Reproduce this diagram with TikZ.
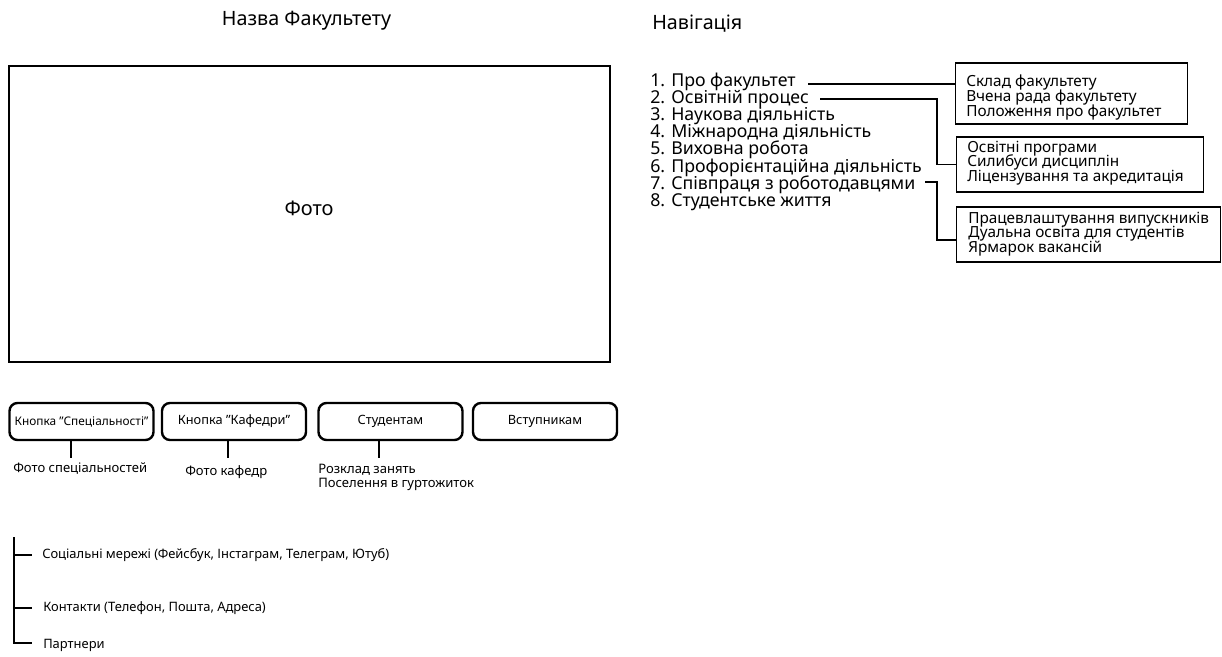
\documentclass[tikz,border=0pt]{standalone}
\usepackage{fontspec}
\setmainfont{Noto Sans}
\newcommand\fsTitle{\fontsize{14.8pt}{16pt}\selectfont}
\newcommand\fsPhoto{\fontsize{15pt}{17pt}\selectfont}
\newcommand\fsNav{\fontsize{13.3pt}{14pt}\selectfont}
\newcommand\fsBox{\fontsize{11.5pt}{11pt}\selectfont\lineskiplimit=-100pt\relax}
\newcommand\fsBtn{\fontsize{9.6pt}{11pt}\selectfont}
\newcommand\fsBtnS{\fontsize{8.9pt}{10pt}\selectfont}
\newcommand\fsLbl{\fontsize{9.8pt}{10.5pt}\selectfont\lineskiplimit=-100pt\relax}
\newcommand\fsFoot{\fontsize{9.7pt}{10pt}\selectfont}
\newcommand\qq{\char34\relax}
\begin{document}
\begin{tikzpicture}[x=0.75pt,y=-0.75pt,
  frame/.style={draw,line width=1.5pt},
  navitem/.style={anchor=west,inner sep=0pt,font=\fsNav},
  subbox/.style={draw,line width=0.8pt,anchor=west,inner sep=0pt},
  subtext/.style={anchor=west,align=left,inner sep=0pt,font=\fsBox},
  conn/.style={line width=1.3pt},
  btn/.style={draw,line width=1.8pt,rounded corners=6pt,minimum width=108pt,minimum height=27.75pt,inner sep=0pt,font=\fsBtn},
  stem/.style={line width=2pt},
  lbl/.style={anchor=north west,inner sep=0pt,align=left,font=\fsLbl},
  foot/.style={anchor=west,inner sep=0pt,font=\fsFoot},
  bracket/.style={line width=2pt}]
\useasboundingbox (0,0) rectangle (1222,657);

% titles
\node[font=\fsTitle] (title) at (306.5,21) {Назва Факультету};
\node[font=\fsTitle,anchor=west,inner sep=0pt] (navtitle) at (652,24) {Навігація};

% photo
\draw[frame] (9,66) rectangle (610,362);
\node[font=\fsPhoto] (photo) at (309,208) {Фото};

% navigation list
\node[navitem] (n1) at (650,82) {1. Про факультет};
\node[navitem] (n2) at (650,99) {2. Освітній процес};
\node[navitem] (n3) at (650,116) {3. Наукова діяльність};
\node[navitem] (n4) at (650,133) {4. Міжнародна діяльність};
\node[navitem] (n5) at (650,150) {5. Виховна робота};
\node[navitem] (n6) at (650,167.5) {6. Профорієнтаційна діяльність};
\node[navitem] (n7) at (650,185) {7. Співпраця з роботодавцями};
\node[navitem] (n8) at (650,202) {8. Студентське життя};

% sub boxes
\node[subbox,minimum width=174pt,minimum height=45.75pt] (s1) at (955,93.5) {};
\node[subbox,minimum width=185.25pt,minimum height=41.25pt] (s2) at (956,164.5) {};
\node[subbox,minimum width=198pt,minimum height=41.25pt] (s3) at (956,234.5) {};
\node[subtext] (s1t) at (966,97.5)
  {Склад факультету\\Вчена рада факультету\\Положення про факультет};
\node[subtext] (s2t) at (967,163)
  {Освітні програми\\Силибуси дисциплін\\Ліцензування та акредитація};
\node[subtext] (s3t) at (968,234)
  {Працевлаштування випускників\\Дуальна освіта для студентів\\Ярмарок вакансій};

% connectors
\coordinate (c1) at (808,84);
\coordinate (c2) at (820,99);
\coordinate (c2v) at (937,99);
\coordinate (c3) at (925,182);
\coordinate (c3v) at (937,182);
\coordinate (c3e) at (956,240);
\draw[conn] (c1) -- (c1 -| s1.west);
\draw[conn] (c2) -- (c2v) |- (s2.west);
\draw[conn] (c3) -- (c3v) |- (c3e);

% buttons
\node[btn,font=\fsBtnS] (b1) at (81.5,421.5) {Кнопка \qq Спеціальності\qq};
\node[btn] (b2) at (234,421.5) {Кнопка \qq Кафедри\qq};
\node[btn] (b3) at (390.5,421.5) {Студентам};
\node[btn] (b4) at (545,421.5) {Вступникам};

\coordinate (t1) at (71,458);
\coordinate (t2) at (228,458);
\coordinate (t3) at (379,458);
\draw[stem] (t1 |- b1.south) -- (t1);
\draw[stem] (t2 |- b2.south) -- (t2);
\draw[stem] (t3 |- b3.south) -- (t3);

\node[lbl] (l1) at (13,463) {Фото спеціальностей};
\node[lbl] (l2) at (185,465) {Фото кафедр};
\node[lbl] (l3) at (318,464) {Розклад занять\\Поселення в гуртожиток};

% footer bracket
\coordinate (ftop) at (14,537);
\coordinate (f1) at (14,555);
\coordinate (f2) at (14,608);
\coordinate (f3) at (14,643);
\node[foot] (ft1) at (42,555) {Соціальні мережі (Фейсбук, Інстаграм, Телеграм, Ютуб)};
\node[foot] (ft2) at (43,608) {Контакти (Телефон, Пошта, Адреса)};
\node[foot] (ft3) at (43,645) {Партнери};
\draw[bracket] (ftop) -- (f3) -- ++(18,0);
\draw[bracket] (f1) -- ++(18,0);
\draw[bracket] (f2) -- ++(18,0);
\end{tikzpicture}
\end{document}
